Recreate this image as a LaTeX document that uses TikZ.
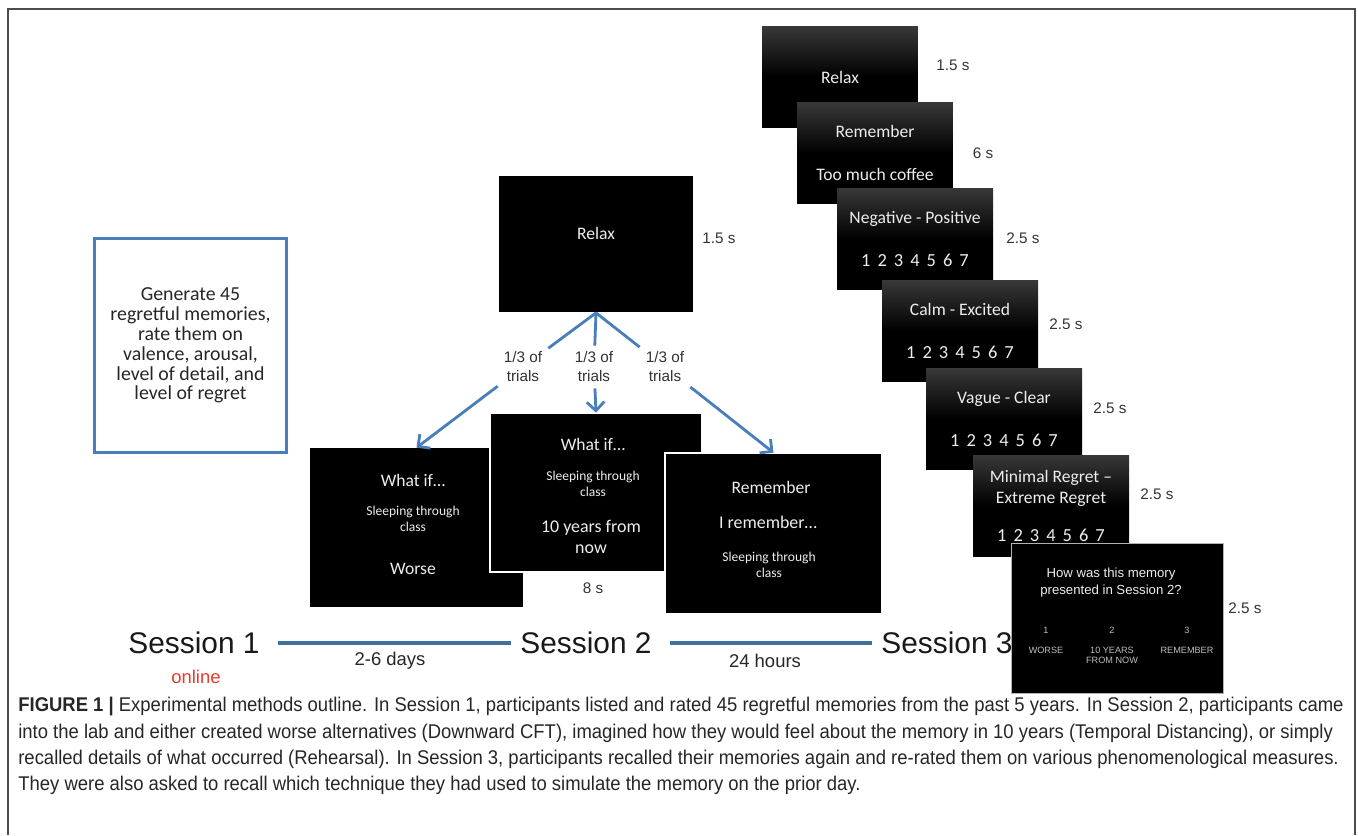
\documentclass[tikz,border=0pt]{standalone}
\usepackage{fontspec}
\setmainfont{Liberation Sans}
\newfontfamily\slidefont{Carlito}
\newfontfamily\capfont{Liberation Sans}[FakeStretch=0.93]
\usetikzlibrary{arrows.meta,positioning}

\definecolor{pptblue}{HTML}{4A7EBB}
\definecolor{lineblue}{HTML}{41709F}
\definecolor{onlinered}{HTML}{E8392F}
\definecolor{timegray}{HTML}{333333}
\definecolor{slidewhite}{HTML}{EDEDED}

\newcommand{\ratescale}{{\fontsize{10.5}{12}\selectfont 1\hspace{4pt}2\hspace{4pt}3\hspace{4pt}4\hspace{4pt}5\hspace{4pt}6\hspace{4pt}7}}

\begin{document}
\begin{tikzpicture}[x=0.02cm,y=-0.02cm,
    slide/.style={fill=black, inner sep=0pt},
    framedslide/.style={slide, draw=gray!70, double=white, double distance=0.7pt, line width=0.4pt},
    stackslide/.style={top color=black!78, bottom color=black, middle color=black, inner sep=0pt,
        minimum width=3.12cm, minimum height=2.04cm, text=slidewhite, align=center,
        font=\slidefont\fontsize{10}{12}\selectfont},
    slidetxt/.style={text=slidewhite, font=\slidefont\fontsize{10}{12}\selectfont, align=center, inner sep=0pt},
    smalltxt/.style={text=slidewhite, font=\slidefont\fontsize{7.7}{9}\selectfont, align=center, inner sep=0pt},
    timelbl/.style={text=timegray, font=\fontsize{8.7}{10}\selectfont},
    fan/.style={draw=pptblue, line width=1.6pt},
    fanarrow/.style={fan, -{Straight Barb[length=5pt,width=10pt]}},
    session/.style={font=\fontsize{17}{20}\selectfont, text=black!90, inner sep=0pt},
    timeline/.style={draw=lineblue, line width=2.3pt, shorten <=10pt, shorten >=5pt}
  ]
  \useasboundingbox (0,0) rectangle (1358,835);
  % outer frame
  \draw[gray!60!black, line width=1pt] (8,835) -- (8,9) -- (1355,9) -- (1355,835);

  % Session 1 task
  \node[draw=pptblue, line width=1.7pt, minimum width=3.86cm, minimum height=4.3cm, align=center,
        font=\slidefont\fontsize{11.3}{11.3}\selectfont, text=black!85] (task) at (190.5,345.5)
    {Generate 45\\regretful memories,\\rate them on\\valence, arousal,\\level of detail, and\\level of regret};

  % Session 2 trial
  \node[slide, minimum width=3.9cm, minimum height=2.74cm] (relax) at (596,244) {};
  \node[slidetxt] (relaxtxt) at (596,233) {Relax};
  \node[timelbl] (relaxtime) at (719,238) {1.5 s};

  \node[timelbl, align=center, font=\fontsize{8.7}{10.8}\selectfont] (lblA) at (523,367) {1/3 of\\trials};
  \node[timelbl, align=center, font=\fontsize{8.7}{10.8}\selectfont] (lblB) at (594,367) {1/3 of\\trials};
  \node[timelbl, align=center, font=\fontsize{8.7}{10.8}\selectfont] (lblC) at (665,367) {1/3 of\\trials};

  \node[slide, minimum width=4.26cm, minimum height=3.18cm] (whatA) at (416.5,527.5) {};
  \node[slidetxt] (whatAtitle) at (413,480) {What if…};
  \node[smalltxt] (whatAmem) at (413,519) {Sleeping through\\class};
  \node[slidetxt] (whatAcue) at (413,569) {Worse};

  \node[framedslide, minimum width=4.24cm, minimum height=3.18cm] (whatB) at (596,492.5) {};
  \node[slidetxt] (whatBtitle) at (593,444) {What if…};
  \node[smalltxt] (whatBmem) at (593,483.5) {Sleeping through\\class};
  \node[slidetxt, font=\slidefont\fontsize{10.2}{12}\selectfont] (whatBcue) at (591,536.5) {10 years from\\now};
  \node[timelbl] (whatBtime) at (593,588) {8 s};

  \node[framedslide, minimum width=4.34cm, minimum height=3.22cm] (remem) at (773.5,533.5) {};
  \node[slidetxt] (rememtitle) at (771,487) {Remember};
  \node[slidetxt, font=\slidefont\fontsize{10.2}{12}\selectfont] (rememcue) at (768,522) {I remember…};
  \node[smalltxt] (remember) at (769,565) {Sleeping through\\class};

  \draw[fan] (relax.south) -- (lblA);
  \draw[fan] (relax.south) -- (lblB);
  \draw[fan] (relax.south) -- (lblC);
  \draw[fanarrow] (lblA) -- (whatA.north);
  \draw[fanarrow] (lblB) -- (whatB.north);
  \draw[fanarrow] (lblC) -- (remem.north);

  % Session 3 trial
  \node[stackslide] (rate1) at (840,77) {Relax};
  \node[stackslide] (rate2) at (875,153) {Remember\\[13pt]Too much coffee};
  \node[stackslide] (rate3) at (915,239) {Negative - Positive\\[12pt]\ratescale};
  \node[stackslide] (rate4) at (960,331) {Calm - Excited\\[12pt]\ratescale};
  \node[stackslide] (rate5) at (1004,419) {Vague - Clear\\[12pt]\ratescale};
  \node[stackslide] (rate6) at (1051,506) {Minimal Regret –\\Extreme Regret\\[10pt]\ratescale};
  \node[slide, draw=gray!60, line width=0.5pt, minimum width=4.24cm, minimum height=3cm] (rate7) at (1117,618) {};
  \node[text=slidewhite, align=center, inner sep=0pt, font=\fontsize{7.5}{9.6}\selectfont] (question) at (1111,582.5)
    {How was this memory\\presented in Session 2?};
  \node[text=white!75!black, inner sep=0pt, font=\fontsize{5.2}{6}\selectfont] (num1) at (1046,630) {1};
  \node[text=white!75!black, inner sep=0pt, font=\fontsize{5.2}{6}\selectfont] (num2) at (1112,630) {2};
  \node[text=white!75!black, inner sep=0pt, font=\fontsize{5.2}{6}\selectfont] (num3) at (1187,630) {3};
  \node[text=white!75!black, inner sep=0pt, align=center, anchor=north, font=\fontsize{5.2}{5.7}\selectfont] (opt1) at (1046,647) {WORSE};
  \node[text=white!75!black, inner sep=0pt, align=center, anchor=north, font=\fontsize{5.2}{5.7}\selectfont] (opt2) at (1112,647) {10 YEARS\\FROM NOW};
  \node[text=white!75!black, inner sep=0pt, align=center, anchor=north, font=\fontsize{5.2}{5.7}\selectfont] (opt3) at (1187,647) {REMEMBER};

  \node[timelbl] (time1) at (953,65) {1.5 s};
  \node[timelbl] (time2) at (983,153) {6 s};
  \node[timelbl] (time3) at (1023,238) {2.5 s};
  \node[timelbl] (time4) at (1066,324) {2.5 s};
  \node[timelbl] (time5) at (1110,408) {2.5 s};
  \node[timelbl] (time6) at (1157,494) {2.5 s};
  \node[timelbl] (time7) at (1245,608) {2.5 s};

  % timeline
  \node[session] (s1) at (194,643) {Session 1};
  \node[session] (s2) at (586,643) {Session 2};
  \node[session] (s3) at (947,643) {Session 3};
  \draw[timeline] (s1) -- (s2);
  \draw[timeline] (s2) -- (s3);
  \node[text=black!85, font=\fontsize{10.5}{12}\selectfont] (gap1) at (390,661) {2-6 days};
  \node[text=black!85, font=\fontsize{10.5}{12}\selectfont] (gap2) at (765,661) {24 hours};
  \node[text=onlinered, font=\fontsize{10.5}{12}\selectfont] (online) at (196,677) {online};

  % caption
  \node[anchor=north west, align=left, inner sep=0pt, text=black!85,
        font=\capfont\fontsize{11.3}{15}\selectfont] (caption) at (18,697)
    {\textbf{FIGURE 1 |} Experimental methods outline. In Session 1, participants listed and rated 45 regretful memories from the past 5 years. In Session 2, participants came\\
     into the lab and either created worse alternatives (Downward CFT), imagined how they would feel about the memory in 10 years (Temporal Distancing), or simply\\
     recalled details of what occurred (Rehearsal). In Session 3, participants recalled their memories again and re-rated them on various phenomenological measures.\\
     They were also asked to recall which technique they had used to simulate the memory on the prior day.};
\end{tikzpicture}
\end{document}
